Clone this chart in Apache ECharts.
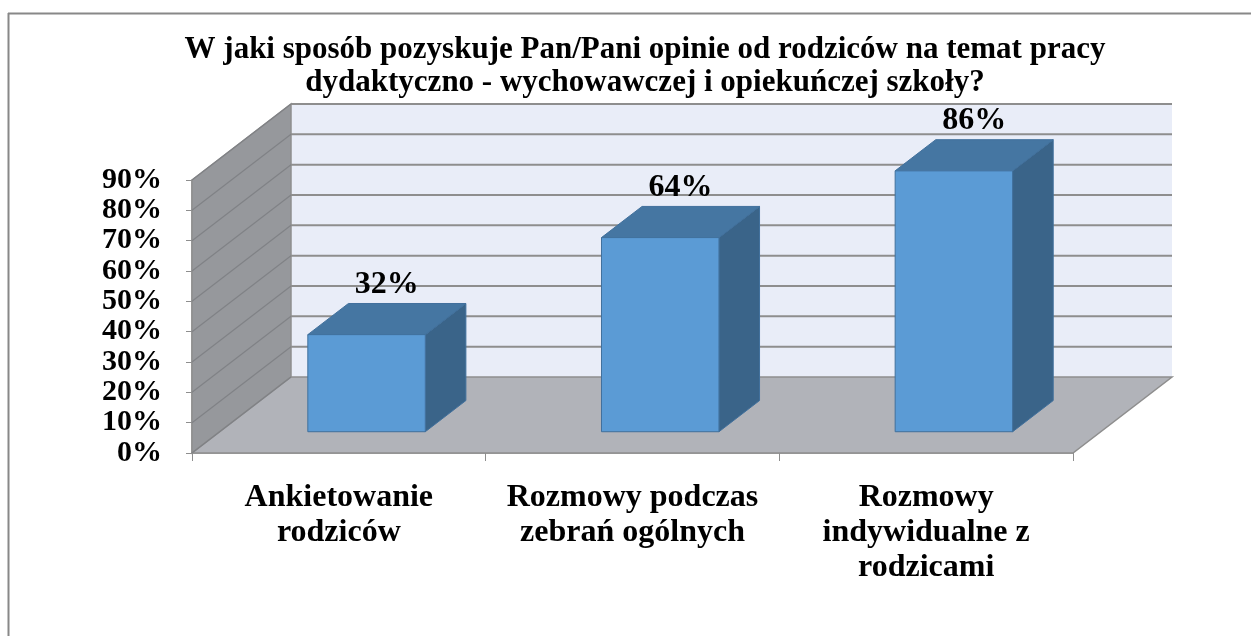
<!DOCTYPE html>
<html>
<head>
<meta charset="utf-8">
<script src="https://cdn.jsdelivr.net/npm/echarts@6/dist/echarts.min.js"></script>
<style>
  html, body { margin: 0; padding: 0; background: #fff; }
  #chart { width: 1251px; height: 636px; }
</style>
</head>
<body>
<div id="chart"></div>
<script>
// data
const categories = ['Ankietowanie\nrodziców', 'Rozmowy podczas\nzebrań ogólnych', 'Rozmowy\nindywidualne z\nrodzicami']
const values = [32, 64, 86]
const yTicks = [0, 10, 20, 30, 40, 50, 60, 70, 80, 90]

// 3d look
const DEPTH_X = 99
const DEPTH_Y = -76
const BAR_FRONT = 0.28 // where the bar front sits in the depth
const BAR_DEPTH = 0.41
const BAR_WIDTH = 0.4 // share of the category
const FONT = '"Liberation Serif", "Times New Roman", serif'
const LINE = '#8e8e8e'

const myChart = echarts.init(document.getElementById('chart'))

// walls, floor and grid lines
function renderRoom(params, api) {
    const cs = params.coordSys
    const x0 = cs.x
    const x1 = cs.x + cs.width
    const yBase = api.coord([0, 0])[1]
    const yTop = api.coord([0, yTicks[yTicks.length - 1]])[1]
    const children = []
    // back wall
    children.push({
        type: 'rect',
        shape: { x: x0 + DEPTH_X, y: yTop + DEPTH_Y, width: cs.width, height: yBase - yTop },
        style: { fill: '#e9edf8' }
    })
    // left wall
    children.push({
        type: 'polygon',
        shape: { points: [[x0, yBase], [x0, yTop], [x0 + DEPTH_X, yTop + DEPTH_Y], [x0 + DEPTH_X, yBase + DEPTH_Y]] },
        style: { fill: '#96989c', stroke: LINE, lineWidth: 1.5 }
    })
    // floor
    children.push({
        type: 'polygon',
        shape: { points: [[x0, yBase], [x1, yBase], [x1 + DEPTH_X, yBase + DEPTH_Y], [x0 + DEPTH_X, yBase + DEPTH_Y]] },
        style: { fill: '#b1b3b9', stroke: LINE, lineWidth: 1.5 }
    })
    yTicks.forEach((v) => {
        const y = api.coord([0, v])[1]
        if (v > 0) {
            children.push({
                type: 'line',
                shape: { x1: x0 + DEPTH_X, y1: y + DEPTH_Y, x2: x1 + DEPTH_X, y2: y + DEPTH_Y },
                style: { stroke: LINE, lineWidth: 2 }
            })
        }
        children.push({
            type: 'line',
            shape: { x1: x0, y1: y, x2: x0 + DEPTH_X, y2: y + DEPTH_Y },
            style: { stroke: '#808286', lineWidth: 1.2 }
        })
    })
    return { type: 'group', children: children }
}

function renderBar(params, api) {
    const idx = api.value(0)
    const val = api.value(1)
    const band = api.size([1, 0])[0]
    const w = band * BAR_WIDTH
    const base = api.coord([idx, 0])
    const top = api.coord([idx, val])
    const fx = base[0] - w / 2 + DEPTH_X * BAR_FRONT
    const fyB = base[1] + DEPTH_Y * BAR_FRONT
    const fyT = top[1] + DEPTH_Y * BAR_FRONT
    const dx = DEPTH_X * BAR_DEPTH
    const dy = DEPTH_Y * BAR_DEPTH
    const edge = { stroke: '#41709c', lineWidth: 1 }
    return {
        type: 'group',
        children: [
            {
                type: 'polygon',
                shape: { points: [[fx + w, fyB], [fx + w, fyT], [fx + w + dx, fyT + dy], [fx + w + dx, fyB + dy]] },
                style: Object.assign({ fill: '#3a6489' }, edge)
            },
            {
                type: 'polygon',
                shape: { points: [[fx, fyT], [fx + w, fyT], [fx + w + dx, fyT + dy], [fx + dx, fyT + dy]] },
                style: Object.assign({ fill: '#4576a2' }, edge)
            },
            {
                type: 'rect',
                shape: { x: fx, y: fyT, width: w, height: fyB - fyT },
                style: Object.assign({ fill: '#5b9bd5' }, edge)
            },
            {
                type: 'text',
                style: {
                    text: val + '%',
                    x: fx + w / 2 + dx / 2,
                    y: fyT + dy - 3,
                    align: 'center',
                    verticalAlign: 'bottom',
                    font: 'bold 32px ' + FONT,
                    fill: '#000'
                }
            }
        ]
    }
}

const option = {
    animation: false,
    backgroundColor: '#fff',
    title: {
        text: 'W jaki sposób pozyskuje Pan/Pani opinie od rodziców na temat pracy\ndydaktyczno - wychowawczej i opiekuńczej szkoły?',
        left: 640,
        top: 28,
        textAlign: 'center',
        textStyle: {
            fontFamily: FONT,
            fontWeight: 'bold',
            fontSize: 31,
            lineHeight: 33,
            color: '#000'
        }
    },
    graphic: [
        { type: 'line', shape: { x1: 8, y1: 13.5, x2: 1251, y2: 13.5 }, style: { stroke: '#888', lineWidth: 2 } },
        { type: 'line', shape: { x1: 8.5, y1: 13, x2: 8.5, y2: 636 }, style: { stroke: '#888', lineWidth: 2 } }
    ],
    grid: {
        left: 192,
        right: 178,
        top: 180,
        bottom: 183
    },
    xAxis: {
        type: 'category',
        data: categories,
        axisLine: { lineStyle: { color: LINE, width: 1.5 } },
        axisTick: { show: true, length: 8, lineStyle: { color: LINE } },
        axisLabel: {
            margin: 27,
            color: '#000',
            fontFamily: FONT,
            fontWeight: 'bold',
            fontSize: 32,
            lineHeight: 35,
            interval: 0
        },
        splitLine: { show: false }
    },
    yAxis: {
        type: 'value',
        min: 0,
        max: 90,
        interval: 10,
        axisLine: { show: true, lineStyle: { color: LINE, width: 1.5 } },
        axisTick: { show: true, length: 6, lineStyle: { color: LINE } },
        axisLabel: {
            margin: 30,
            color: '#000',
            fontFamily: FONT,
            fontWeight: 'bold',
            fontSize: 30,
            formatter: (v) => v + '%'
        },
        splitLine: { show: false }
    },
    series: [
        {
            type: 'custom',
            renderItem: renderRoom,
            data: [[0, 0]],
            z: 1,
            silent: true
        },
        {
            type: 'custom',
            renderItem: renderBar,
            data: values.map((v, i) => [i, v]),
            encode: { x: 0, y: 1 },
            z: 2
        }
    ]
}

myChart.setOption(option)

window.onresize = function () {
    myChart.resize()
}
</script>
</body>
</html>
